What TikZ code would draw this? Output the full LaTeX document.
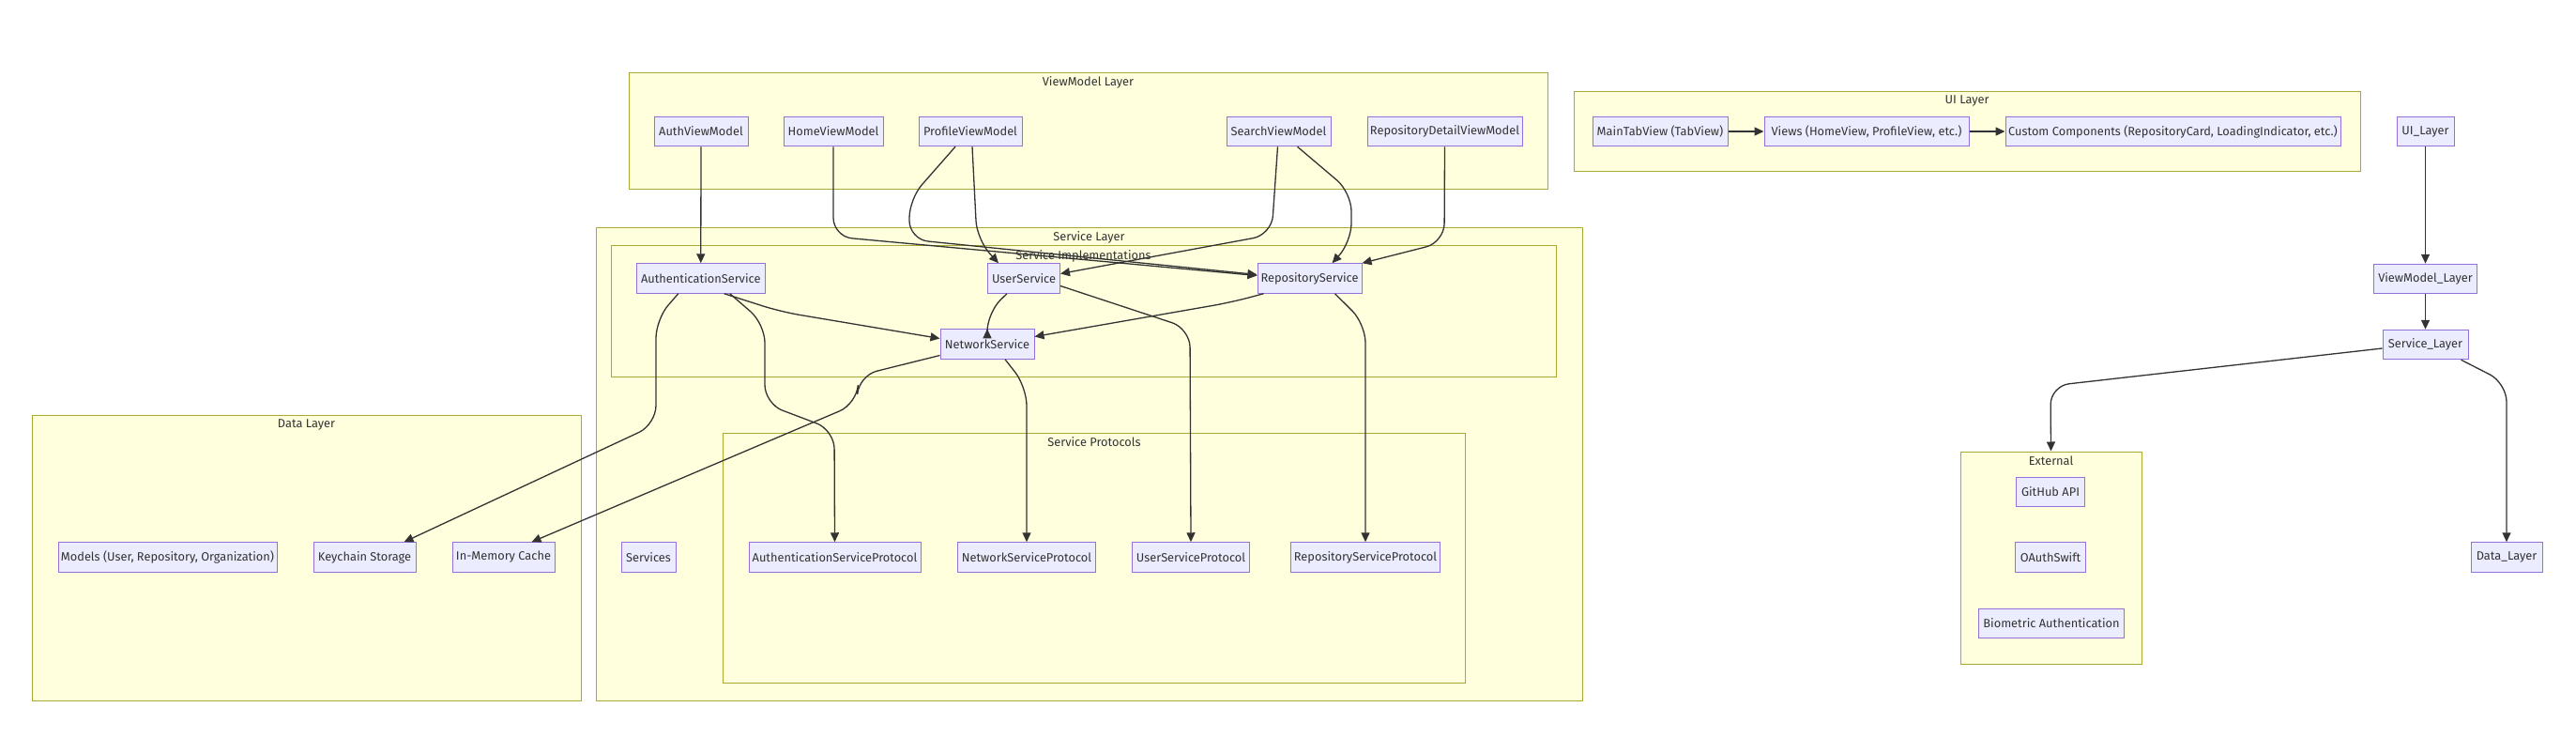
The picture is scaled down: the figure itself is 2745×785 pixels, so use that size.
\documentclass[tikz,border=0pt]{standalone}
\usepackage{fontspec}
\setmainfont{Fira Sans}
\usetikzlibrary{arrows.meta}
\definecolor{nodefill}{HTML}{ECECFF}
\definecolor{nodeline}{HTML}{9370DB}
\definecolor{layerfill}{HTML}{FFFFDE}
\definecolor{layerline}{HTML}{AAAA33}
\definecolor{flowline}{HTML}{333333}
\definecolor{labeltext}{HTML}{333333}

\begin{document}
\begin{tikzpicture}[x=1pt, y=-1pt,
		font=\fontsize{12.8}{15}\selectfont, text=labeltext,
		>={Triangle[length=10pt, width=9pt]},
		comp/.style={draw=nodeline, fill=nodefill, line width=1pt, minimum height=31.5, inner sep=0pt},
		layer/.style={draw=layerline, fill=layerfill, line width=1pt, inner sep=0pt},
		ltitle/.style={anchor=north, inner sep=5pt},
		flow/.style={->, draw=flowline, line width=1.3pt, rounded corners=20pt}]
	\useasboundingbox (0,0) rectangle (2745,785);
	\fill[white] (0,0) rectangle (2745,785);

	% clusters
	\node[layer, minimum width=979, minimum height=124, label={[ltitle]north:ViewModel Layer}] (VMbox) at (1159.5,139) {};
	\node[layer, minimum width=838, minimum height=85, label={[ltitle]north:UI Layer}] (UIbox) at (2096,139.5) {};
	\node[layer, minimum width=1051, minimum height=504, label={[ltitle]north:Service Layer}] (SLbox) at (1160.5,494) {};
	\node[layer, minimum width=1007, minimum height=140, label={[ltitle]north:Service Implementations}] (SIbox) at (1154.5,331.7) {};
	\node[layer, minimum width=791, minimum height=266, label={[ltitle]north:Service Protocols}] (SPbox) at (1166,594) {};
	\node[layer, minimum width=585, minimum height=304, label={[ltitle]north:Data Layer}] (DLbox) at (326.5,594) {};
	\node[layer, minimum width=193, minimum height=226, label={[ltitle]north:External}] (EXT) at (2185.5,594) {};

	% view models
	\node[comp, minimum width=100] (AVM) at (747,140) {AuthViewModel};
	\node[comp, minimum width=106] (HVM) at (888,140) {HomeViewModel};
	\node[comp, minimum width=110] (PVM) at (1034,140) {ProfileViewModel};
	\node[comp, minimum width=111] (SVM) at (1362.5,140) {SearchViewModel};
	\node[comp, minimum width=165] (RDVM) at (1539.5,140) {RepositoryDetailViewModel};

	% ui
	\node[comp, minimum width=144] (MTV) at (1769,140) {MainTabView (TabView)};
	\node[comp, minimum width=218] (VW) at (1989,140) {Views (HomeView, ProfileView, etc.)};
	\node[comp, minimum width=357] (CC) at (2315.5,140) {Custom Components (RepositoryCard, LoadingIndicator, etc.)};

	% services
	\node[comp, minimum width=136.5] (AS) at (746.75,296.5) {AuthenticationService};
	\node[comp, minimum width=77] (US) at (1091,296.5) {UserService};
	\node[comp, minimum width=111] (RS) at (1395.5,296.5) {RepositoryService};
	\node[comp, minimum width=100] (NS) at (1052,366.5) {NetworkService};

	% protocols
	\node[comp, minimum width=58] (SV) at (691,593.5) {Services};
	\node[comp, minimum width=183] (ASP) at (889.5,593.5) {AuthenticationServiceProtocol};
	\node[comp, minimum width=146.5] (NSP) at (1094,593.5) {NetworkServiceProtocol};
	\node[comp, minimum width=124.5] (USP) at (1269,593.5) {UserServiceProtocol};
	\node[comp, minimum width=158.5] (RSP) at (1455,593.5) {RepositoryServiceProtocol};

	% data
	\node[comp, minimum width=233] (MD) at (178.5,593.5) {Models (User, Repository, Organization)};
	\node[comp, minimum width=109] (KS) at (388.5,593.5) {Keychain Storage};
	\node[comp, minimum width=109] (MC) at (536.5,593.5) {In-Memory Cache};

	% external
	\node[comp, minimum width=72.5] (GH) at (2185,524) {GitHub API};
	\node[comp, minimum width=75.5] (OA) at (2185,593.5) {OAuthSwift};
	\node[comp, minimum width=154.5] (BA) at (2186,664) {Biometric Authentication};

	% layer overview
	\node[comp, minimum width=61] (UIL) at (2584.5,140) {UI\_Layer};
	\node[comp, minimum width=110] (VML) at (2584.5,297) {ViewModel\_Layer};
	\node[comp, minimum width=91] (SL) at (2584.5,367) {Service\_Layer};
	\node[comp, minimum width=76] (DL) at (2671,593.5) {Data\_Layer};

	% view models to services
	\draw[flow] (AVM) -- (AS);
	\draw[flow] (HVM.south) -- (888,252) -- ([yshift=3pt]RS.west);
	\draw[flow] ([xshift=-16pt]PVM.south) -- (969,212) -- (969,255) -- ([yshift=4pt]RS.west);
	\draw[flow] ([xshift=2pt]PVM.south) -- (1041,255) -- ([xshift=-27pt]US.north);
	\draw[flow] ([xshift=-1pt]SVM.south) -- (1355,250) -- ([yshift=5pt]US.east);
	\draw[flow] ([xshift=20pt]SVM.south) -- (1440,205) -- (1440,258) -- ([xshift=24pt]RS.north);
	\draw[flow] (RDVM.south) -- (1539,258) -- (RS.north east);

	% services
	\draw[flow] ([xshift=25pt]AS.south) -- (832,332) -- ([yshift=6pt]NS.west);
	\draw[flow] ([xshift=-18pt]US.south) -- (1052,333) -- (NS.north);
	\draw[flow] ([xshift=-49pt]RS.south) -- (1312,322) -- ([yshift=8pt]NS.east);
	\draw[flow] ([xshift=-24pt]AS.south) -- (699,340) -- (699,452) -- ([xshift=42pt]KS.north);
	\draw[flow] ([xshift=31pt]AS.south) -- (815,345) -- (815,430) -- (889,458) -- (ASP.north);
	\draw[flow] ([yshift=-12pt]NS.west) -- (915,400) -- (913,430) -- ([xshift=30pt]MC.north);
	\draw[flow] ([xshift=19pt]NS.south) -- (1094,412) -- (NSP.north);
	\draw[flow] ([yshift=-8pt]US.east) -- (1268,350) -- (USP.north);
	\draw[flow] ([xshift=27pt]RS.south) -- (1455,345) -- (RSP.north);

	% ui
	\draw[flow] (MTV) -- (VW);
	\draw[flow] (VW) -- (CC);

	% overview
	\draw[flow] (UIL) -- (VML);
	\draw[flow] (VML) -- (SL);
	\draw[flow] ([yshift=-4pt]SL.west) -- (2185,411) -- (EXT.north);
	\draw[flow] ([xshift=38pt]SL.south) -- (2671,408) -- (DL.north);
\end{tikzpicture}
\end{document}
